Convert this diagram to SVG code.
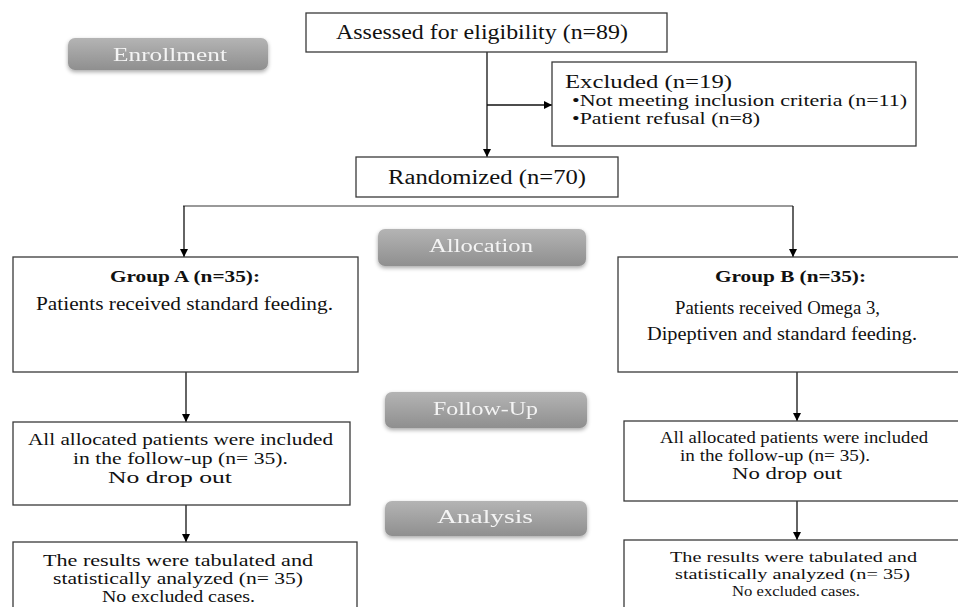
<svg xmlns="http://www.w3.org/2000/svg" width="958" height="607" viewBox="0 0 958 607">
<defs>
<linearGradient id="btn" x1="0" y1="0" x2="0" y2="1">
<stop offset="0" stop-color="#b4b4b4"/>
<stop offset="1" stop-color="#8f8f8f"/>
</linearGradient>
<filter id="sh" x="-10%" y="-30%" width="120%" height="170%">
<feGaussianBlur in="SourceAlpha" stdDeviation="2"/>
<feOffset dy="2" result="b"/>
<feComponentTransfer><feFuncA type="linear" slope="0.35"/></feComponentTransfer>
<feMerge><feMergeNode/><feMergeNode in="SourceGraphic"/></feMerge>
</filter>
<marker id="ah" viewBox="0 0 10 10" refX="10" refY="5" markerWidth="8" markerHeight="8" markerUnits="userSpaceOnUse" orient="auto">
<path d="M0,0 L10,5 L0,10 z" fill="#000"/>
</marker>
</defs>
<style>
.box{fill:#fff;stroke:#3a3a3a;stroke-width:1.3}
.t{font-family:"Liberation Serif","Times New Roman",serif;fill:#111}
.b{font-weight:bold}
.btn{fill:url(#btn)}
.bt{font-family:"Liberation Serif","Times New Roman",serif;fill:#f4f4f4;font-size:18px}
.c{fill:none;stroke:#111;stroke-width:1.3}
</style>
<rect width="958" height="607" fill="#fff"/>

<g id="stage-enrollment" filter="url(#sh)">
<rect class="btn" x="68" y="38" width="200" height="32" rx="7"/>
<text class="bt" x="113" y="61" textLength="114" lengthAdjust="spacingAndGlyphs">Enrollment</text>
</g>
<g id="stage-allocation" filter="url(#sh)">
<rect class="btn" x="378" y="229" width="208" height="37" rx="7"/>
<text class="bt" x="429" y="252" textLength="104" lengthAdjust="spacingAndGlyphs">Allocation</text>
</g>
<g id="stage-followup" filter="url(#sh)">
<rect class="btn" x="385" y="392" width="202" height="36" rx="7"/>
<text class="bt" x="433" y="415" textLength="105" lengthAdjust="spacingAndGlyphs">Follow-Up</text>
</g>
<g id="stage-analysis" filter="url(#sh)">
<rect class="btn" x="385" y="501" width="202" height="35" rx="7"/>
<text class="bt" x="437" y="523" textLength="96" lengthAdjust="spacingAndGlyphs">Analysis</text>
</g>

<g id="connectors">
<path class="c" d="M487,52 V157" marker-end="url(#ah)"/>
<path class="c" d="M487,105 H552" marker-end="url(#ah)"/>
<path d="M183,206 H793" stroke="#777" stroke-width="1.5" fill="none"/>
<path class="c" d="M184,206 V257" marker-end="url(#ah)"/>
<path class="c" d="M793,206 V257" marker-end="url(#ah)"/>
<path class="c" d="M186,372 V422" marker-end="url(#ah)"/>
<path class="c" d="M186,505 V542" marker-end="url(#ah)"/>
<path class="c" d="M797,372 V421" marker-end="url(#ah)"/>
<path class="c" d="M797,501 V540" marker-end="url(#ah)"/>
</g>

<g id="assessed">
<rect class="box" x="306" y="13" width="361" height="39"/>
<text class="t" x="336" y="39" font-size="20" textLength="292" lengthAdjust="spacingAndGlyphs">Assessed for eligibility (n=89)</text>
</g>
<g id="excluded">
<rect class="box" x="552" y="62" width="364" height="84"/>
<text class="t" x="565" y="88" font-size="18" textLength="167" lengthAdjust="spacingAndGlyphs">Excluded (n=19)</text>
<text class="t" x="572" y="106" font-size="16" textLength="335" lengthAdjust="spacingAndGlyphs">•Not meeting inclusion criteria (n=11)</text>
<text class="t" x="572" y="124" font-size="16" textLength="188" lengthAdjust="spacingAndGlyphs">•Patient refusal (n=8)</text>
</g>
<g id="randomized">
<rect class="box" x="356" y="157" width="262" height="40"/>
<text class="t" x="388" y="184" font-size="20" textLength="198" lengthAdjust="spacingAndGlyphs">Randomized (n=70)</text>
</g>
<g id="group-a">
<rect class="box" x="13" y="257" width="345" height="115"/>
<text class="t b" x="110" y="282" font-size="17" textLength="150" lengthAdjust="spacingAndGlyphs">Group A (n=35):</text>
<text class="t" x="36" y="310" font-size="18" textLength="297" lengthAdjust="spacingAndGlyphs">Patients received standard feeding.</text>
</g>
<g id="group-b">
<rect class="box" x="618" y="257" width="345" height="115"/>
<text class="t b" x="715" y="282" font-size="17" textLength="151" lengthAdjust="spacingAndGlyphs">Group B (n=35):</text>
<text class="t" x="675" y="314" font-size="18" textLength="205" lengthAdjust="spacingAndGlyphs">Patients received Omega 3,</text>
<text class="t" x="647" y="340" font-size="18" textLength="270" lengthAdjust="spacingAndGlyphs">Dipeptiven and standard feeding.</text>
</g>
<g id="followup-a">
<rect class="box" x="13" y="422" width="337" height="83"/>
<text class="t" x="28" y="445" font-size="16.5" textLength="305" lengthAdjust="spacingAndGlyphs">All allocated patients were included</text>
<text class="t" x="73" y="464" font-size="16.5" textLength="215" lengthAdjust="spacingAndGlyphs">in the follow-up (n= 35).</text>
<text class="t" x="108" y="483" font-size="16.5" textLength="124" lengthAdjust="spacingAndGlyphs">No drop out</text>
</g>
<g id="analysis-a">
<rect class="box" x="13" y="542" width="344" height="70"/>
<text class="t" x="43" y="566" font-size="16" textLength="270" lengthAdjust="spacingAndGlyphs">The results were tabulated and</text>
<text class="t" x="53" y="584" font-size="16" textLength="250" lengthAdjust="spacingAndGlyphs">statistically analyzed (n= 35)</text>
<text class="t" x="102" y="602" font-size="16" textLength="153" lengthAdjust="spacingAndGlyphs">No excluded cases.</text>
</g>
<g id="followup-b">
<rect class="box" x="624" y="421" width="340" height="80"/>
<text class="t" x="660" y="443" font-size="16" textLength="268" lengthAdjust="spacingAndGlyphs">All allocated patients were included</text>
<text class="t" x="680" y="461" font-size="16" textLength="190" lengthAdjust="spacingAndGlyphs">in the follow-up (n= 35).</text>
<text class="t" x="732" y="479" font-size="16" textLength="110" lengthAdjust="spacingAndGlyphs">No drop out</text>
</g>
<g id="analysis-b">
<rect class="box" x="624" y="540" width="340" height="72"/>
<text class="t" x="670" y="562" font-size="15.5" textLength="247" lengthAdjust="spacingAndGlyphs">The results were tabulated and</text>
<text class="t" x="675" y="579" font-size="15.5" textLength="235" lengthAdjust="spacingAndGlyphs">statistically analyzed (n= 35)</text>
<text class="t" x="732" y="596" font-size="15.5" textLength="128" lengthAdjust="spacingAndGlyphs">No excluded cases.</text>
</g>
</svg>
